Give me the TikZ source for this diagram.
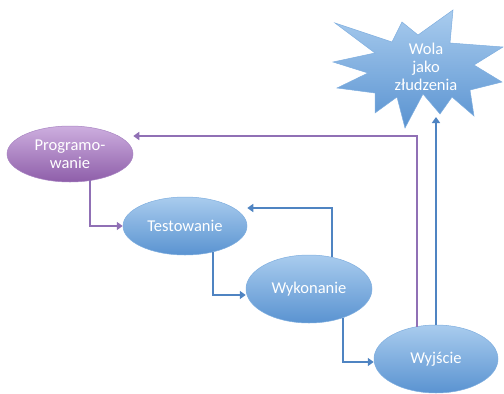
\documentclass[tikz,border=0pt]{standalone}
\usepackage{fontspec}
\setmainfont{Carlito}
\usepackage{tikz}
\usetikzlibrary{arrows.meta,calc,shapes.geometric}

\definecolor{blueTop}{HTML}{A9CCEE}
\definecolor{blueBot}{HTML}{5A93D1}
\definecolor{blueEdge}{HTML}{7FAEDF}
\definecolor{purpleTop}{HTML}{CDAEDF}
\definecolor{purpleBot}{HTML}{8E5EA9}
\definecolor{purpleEdge}{HTML}{A884C2}
\definecolor{purpleLine}{HTML}{9070B5}
\definecolor{blueLine}{HTML}{4F84C2}

\begin{document}
\begin{tikzpicture}[x=1pt,y=-1pt,>={Triangle[length=6pt,width=8pt]},
    txt/.style={text=white,font=\fontsize{16.5}{18}\selectfont,align=center},
    blueel/.style={ellipse,inner sep=0pt,top color=blueTop,bottom color=blueBot,
        draw=blueEdge,line width=0.5pt,txt},
    purpleel/.style={ellipse,inner sep=0pt,top color=purpleTop,bottom color=purpleBot,
        draw=purpleEdge,line width=0.5pt,txt},
    bluearr/.style={draw=blueLine,line width=1.6pt,->},
    purplearr/.style={draw=purpleLine,line width=1.6pt,->}]
    \useasboundingbox (0,0) rectangle (504,394);

    % star
    \path[top color=blueTop,bottom color=blueBot,draw=blueEdge,line width=0.5pt]
        (335,23) -- (392,42) -- (402,22) -- (418,35) -- (453,10) -- (450,43)
        -- (503,47) -- (474,65) -- (502,82) -- (470,90) -- (474,116) -- (452,97)
        -- (440,114) -- (423,94) -- (405,128) -- (397,97) -- (375,113) -- (375,93)
        -- (337,88) -- (368,73) -- (333,62) -- (375,53) -- cycle;
    \node[txt] (wola) at (426,67) {Wola\\jako\\złudzenia};
    \coordinate (wolaTip) at (436,117);

    \node[purpleel,minimum width=126pt,minimum height=56pt] (prog) at (70,154) {Programo-\\wanie};
    \node[blueel,minimum width=124pt,minimum height=58pt] (test) at (185,226) {Testowanie};
    \node[blueel,minimum width=126pt,minimum height=68pt] (wyk) at (309,289) {Wykonanie};
    \node[blueel,minimum width=124pt,minimum height=68pt] (wyj) at (436,359) {Wyjście};

    \draw[purplearr] ($(prog.south)+(20,-2)$) |- (test.west);
    \draw[bluearr] ($(test.south)+(28,-3)$) |- ($(wyk.west)+(0,6)$);
    \draw[bluearr] ($(wyk.north)+(23,2)$) |- ($(test.east)+(0,-18)$);
    \draw[bluearr] ($(wyk.south)+(34,-5)$) |- ($(wyj.west)+(0,3)$);
    \draw[purplearr] ($(wyj.north)+(-19,2)$) |- ($(prog.east)+(0,-18)$);
    \draw[bluearr] (wyj.north) -- (wolaTip);
\end{tikzpicture}
\end{document}
